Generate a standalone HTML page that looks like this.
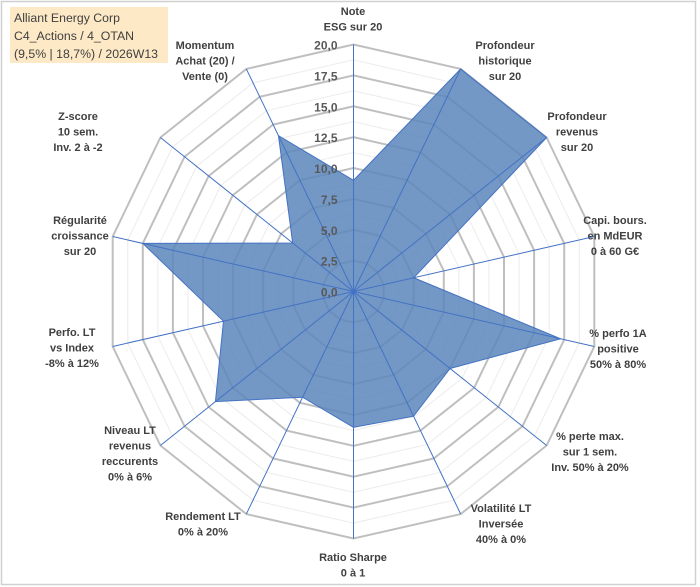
<!DOCTYPE html>
<html><head><meta charset="utf-8"><style>
html,body{margin:0;padding:0;background:#fff;}
svg{display:block;font-family:"Liberation Sans",Arial,sans-serif;}
.lbl{font-size:11px;font-weight:bold;fill:#404040;text-anchor:middle;}
.tick{font-size:12px;font-weight:bold;fill:#595959;text-anchor:end;}
</style></head><body>
<svg id="chart" width="700" height="587" viewBox="0 0 700 587">
<rect x="1.5" y="1.5" width="694" height="583" fill="#fff" stroke="#d0d0d0" stroke-width="1.5"/>
<g id="grid"></g>
<g id="axes"></g>
<g id="series"></g>
<g id="ticks"></g>
<g id="labels"></g>
<rect x="10" y="7" width="158" height="56" fill="#fde9c6"/>
<text x="14" y="22" font-size="12.3" fill="#404040">Alliant Energy Corp</text>
<text x="14" y="40" font-size="12.3" fill="#404040">C4_Actions / 4_OTAN</text>
<text x="14" y="58" font-size="12.3" fill="#404040">(9,5% | 18,7%) / 2026W13</text>
</svg>
<script>
const categories = [["Note","ESG sur 20"],["Profondeur","historique","sur 20"],["Profondeur","revenus","sur 20"],["Capi. bours.","en MdEUR","0 à 60 G€"],["% perfo 1A","positive","50% à 80%"],["% perte max.","sur 1 sem.","Inv. 50% à 20%"],["Volatilité LT","Inversée","40% à 0%"],["Ratio Sharpe","0 à 1"],["Rendement LT","0% à 20%"],["Niveau LT","revenus","reccurents","0% à 6%"],["Perfo. LT","vs Index","-8% à 12%"],["Régularité","croissance","sur 20"],["Z-score","10 sem.","Inv. 2 à -2"],["Momentum","Achat (20) /","Vente (0)"]];
const values = [9.0, 20, 20, 5.0, 17.2, 10, 11.2, 11, 9.5, 14.3, 10.8, 17.5, 6.3, 14];
const tickLabels = ["0,0","2,5","5,0","7,5","10,0","12,5","15,0","17,5","20,0"];
const tickValues = [0,2.5,5,7.5,10,12.5,15,17.5,20];
const labelPos = [[353,15],[505,49],[577,120],[615,224],[618,337],[590,440],[501,512],[353,561],[203,520],[130,434],[72,336],[80,224],[78,120],[205,49]];
const NS="http://www.w3.org/2000/svg";
const cx=353.5, cy=291.5, R=247, MAX=20, N=categories.length;
function ang(i){return -Math.PI/2 + i*2*Math.PI/N;}
function pt(i,v){const r=v/MAX*R;return [cx+r*Math.cos(ang(i)), cy+r*Math.sin(ang(i))];}
function mk(tag,attrs,parent){const e=document.createElementNS(NS,tag);for(const k in attrs)e.setAttribute(k,attrs[k]);parent.appendChild(e);return e;}
const grid=document.getElementById('grid');
for(let k=1;k<=16;k++){
  const v=k*1.25;
  const pts=[];for(let i=0;i<N;i++)pts.push(pt(i,v).join(','));
  const major=k%2===0;
  const p=mk('polygon',{points:pts.join(' '),fill:'none',stroke:major?'#bfbfbf':'#ececec','stroke-width':major?2:1},grid);
  
  
}
const series=document.getElementById('series');
const sp=values.map((v,i)=>pt(i,v).join(',')).join(' ');
const poly=mk('polygon',{points:sp,fill:'#5b86bb','fill-opacity':'0.85',stroke:'#4472c4','stroke-width':1},series);


const axes=document.getElementById('axes');
for(let i=0;i<N;i++){
  const [x,y]=pt(i,MAX);
  const l=mk('line',{x1:cx,y1:cy,x2:x,y2:y,stroke:'#4472c4','stroke-width':1},axes);
  
  
}
document.getElementById('chart').appendChild(axes);
const ticks=document.getElementById('ticks');
tickValues.forEach((v,j)=>{
  const t=mk('text',{x:cx-16,y:cy-v/MAX*R+5,class:'tick'},ticks);
  t.textContent=tickLabels[j];
  
  
});
document.getElementById('chart').appendChild(ticks);
const labels=document.getElementById('labels');
categories.forEach((c,i)=>{
  const [x,y]=labelPos[i];
  const t=mk('text',{x:x,y:y,class:'lbl'},labels);
  
  
  c.forEach((line,j)=>{const s=mk('tspan',{x:x,dy:j===0?0:15.5},t);s.textContent=line;});
});
</script>
</body></html>
